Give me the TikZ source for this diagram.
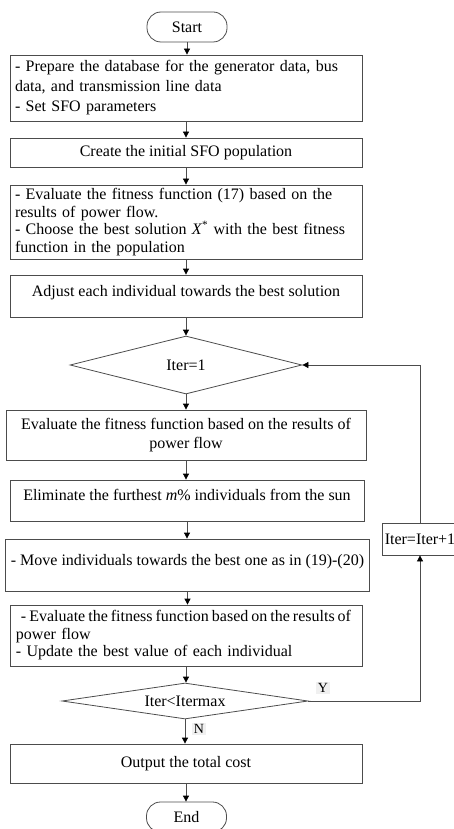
\documentclass[tikz,border=0pt]{standalone}
\usepackage{fontspec}
\setmainfont{Liberation Serif}
\usetikzlibrary{shapes.geometric,arrows.meta}

\begin{document}
\begin{tikzpicture}[x=1pt,y=-1pt,
  every node/.style={font=\fontsize{16}{19}\selectfont},
  box/.style={draw=black!70,line width=0.8pt,rectangle,minimum width=352pt,inner sep=5pt},
  leftbox/.style={box,text width=342pt,align=left},
  tallbox/.style={box,text depth=11pt},
  term/.style={draw=black!70,line width=0.8pt,rounded corners=14pt,minimum width=80pt,minimum height=30pt},
  decision/.style={draw=black!70,line width=0.8pt,diamond,inner sep=0pt},
  tag/.style={fill=black!6,inner sep=1.5pt,font=\fontsize{14}{14}\selectfont},
  line/.style={draw=black!70,line width=0.8pt},
  arrow/.style={line,-{Triangle[length=6pt,width=6pt,color=black]}}]

\useasboundingbox (0,0) rectangle (454,829);
\clip (0,0) rectangle (454,829);

\node[term] (start) at (187,27) {Start};

\node[leftbox,minimum height=66pt,font=\fontsize{16}{20}\selectfont] (data) at (186,88)
  {- Prepare the database for the generator data, bus\\data, and transmission line data\\- Set SFO parameters};

\node[box,minimum height=29pt] (init) at (186,152.5) {Create the initial SFO population};

\node[leftbox,minimum height=74pt,inner ysep=2pt,font=\fontsize{16}{17.7}\selectfont] (fit) at (186,222)
  {- Evaluate the fitness function (17) based on the\\results of power flow.\\- Choose the best solution \textit{X}\textsuperscript{*} with the best fitness\\function in the population};

\node[tallbox,minimum height=42pt] (adjust) at (186,296) {Adjust each individual towards the best solution};

\node[decision,aspect=4,minimum width=232pt,minimum height=58pt] (first) at (186,365) {Iter=1};

\node[box,minimum width=360pt,minimum height=50pt,align=center] (eval) at (186,435)
  {Evaluate the fitness function based on the results of\\power flow};

\node[tallbox,minimum width=354pt,minimum height=41pt] (elim) at (187,500.5)
  {Eliminate the furthest \textit{m}\% individuals from the sun};

\node[tallbox,minimum width=355pt,minimum height=52pt] (move) at (187.5,565)
  {- Move individuals towards the best one as in (19)-(20)};

\node[box,text width=340pt,inner xsep=6pt,align=left,minimum height=61pt,font=\fontsize{16}{17.5}\selectfont] (update) at (186,635.5)
  {\mbox{\spaceskip=3pt\relax\hspace*{5pt}- Evaluate the fitness function based on the results of}\\power flow\\- Update the best value of each individual};

\node[decision,aspect=6.8,minimum width=246pt,minimum height=36pt] (more) at (185,701) {Iter<Itermax};

\node[box,minimum height=39pt] (out) at (186,763.5) {Output the total cost};

\node[term] (end) at (186.5,817) {End};

\node[box,minimum width=76pt,minimum height=32pt,inner xsep=2pt] (next) at (420,539) {Iter=Iter+1};

\node[tag] (yes) at (323,688) {Y};
\node[tag] (no) at (199,729) {N};

\foreach \a/\b in {start/data,data/init,init/fit,fit/adjust,adjust/first,first/eval,eval/elim,elim/move,move/update,update/more,more/out,out/end}
  \draw[arrow] (\a.south) -- (\a.south |- \b.north);

\draw[arrow] (more.east) -| (next.south);
\draw[arrow] (next.north) |- (first.east);

\end{tikzpicture}
\end{document}
